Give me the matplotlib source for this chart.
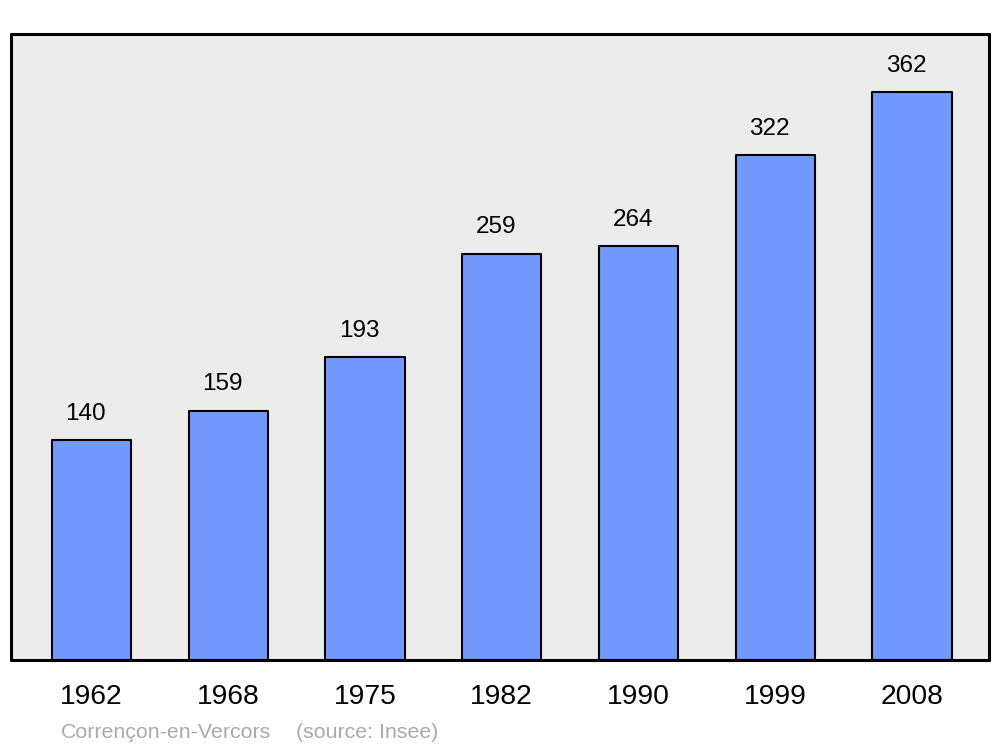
import numpy as np
import matplotlib.pyplot as plt

years = ['1962', '1968', '1975', '1982', '1990', '1999', '2008']
population = [140, 159, 193, 259, 264, 322, 362]
commune = 'Corrençon-en-Vercors'
source = '(source: Insee)'

plt.rcParams['font.family'] = ['Liberation Sans', 'DejaVu Sans']

fig = plt.figure(figsize=(10, 7.47), dpi=100)
# axes frame spans px 11..989 horizontally, 34..660 vertically
ax = fig.add_axes([11 / 1000, 1 - 660 / 747, 978 / 1000, 626 / 747])
ax.set_facecolor('#ececec')

x = np.arange(len(years))
bars = ax.bar(x, population, width=0.58, color='#7399ff', edgecolor='black',
              linewidth=1.5, joinstyle='round', zorder=2)

for xi, val in zip(x, population):
    ax.annotate(str(val), (xi, val), xytext=(-4, 11), textcoords='offset points',
                ha='center', va='bottom', fontsize=17.5)

ax.set_xlim(-0.588, len(years) - 1 + 0.563)
ax.set_ylim(0, 399)
ax.set_yticks([])
ax.set_xticks(x)
ax.set_xticklabels(years, fontsize=20.3)
ax.tick_params(axis='x', length=0, pad=17)
for s in ax.spines.values():
    s.set_linewidth(2.2)
    s.set_capstyle('round')

fig.text(61 / 1000, 1 - 738 / 747, commune, color='#aaaaaa', fontsize=15.4)
fig.text(296 / 1000, 1 - 738 / 747, source, color='#aaaaaa', fontsize=15.4)

fig.savefig('out.png', dpi=100)
